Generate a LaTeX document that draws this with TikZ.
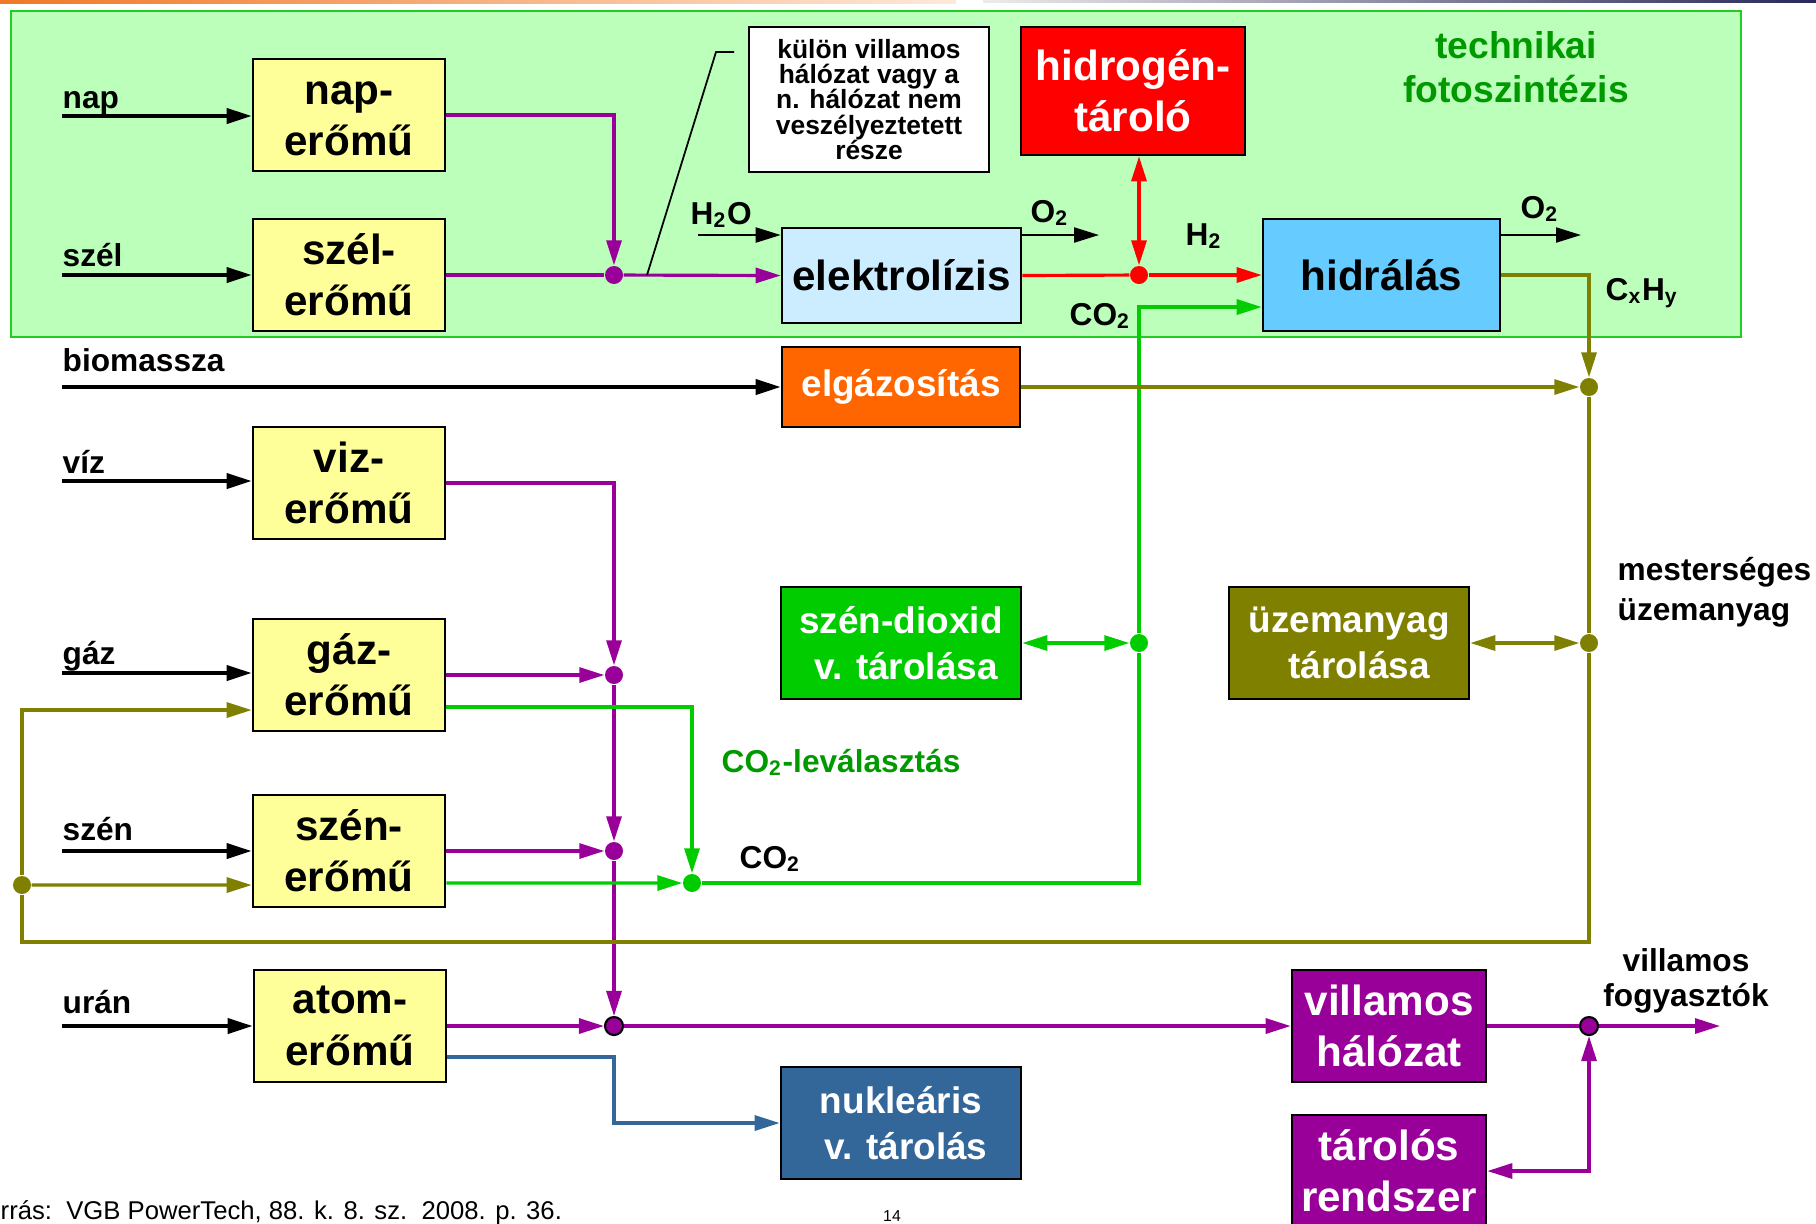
\documentclass[tikz,border=0pt]{standalone}
\usepackage{fontspec}
\setmainfont{Liberation Sans}
\usetikzlibrary{arrows.meta}

\definecolor{hatter}{HTML}{BBFFBB}
\definecolor{keret}{HTML}{22CC22}
\definecolor{sarga}{HTML}{FFFF99}
\definecolor{lila}{HTML}{990099}
\definecolor{zold}{HTML}{00CC00}
\definecolor{sotetzold}{HTML}{009900}
\definecolor{oliva}{HTML}{808000}
\definecolor{kek}{HTML}{336699}
\definecolor{halvanykek}{HTML}{CCECFF}
\definecolor{egkek}{HTML}{66CCFF}
\definecolor{narancs}{HTML}{FF6600}
\definecolor{csik}{HTML}{F07828}
\definecolor{csikvege}{HTML}{FDE9D9}
\definecolor{sotetcsik}{HTML}{28285A}

\newcommand{\megjbetu}{\bfseries\fontsize{7.5}{7.2}\selectfont\setlength{\lineskiplimit}{-10pt}}

\tikzset{
  doboz/.style={draw=black, line width=0.7pt, align=center, inner sep=0pt,
    font=\bfseries\fontsize{12}{14.6}\selectfont},
  eromu/.style={doboz, fill=sarga, minimum width=1.92cm, minimum height=1.12cm},
  feher/.style={font=\bfseries\fontsize{10.5}{12.9}\selectfont, text=white},
  cimke/.style={font=\bfseries\fontsize{9}{10}\selectfont, inner sep=0pt},
  pont/.style={circle, fill=#1, inner sep=0pt, minimum size=0.18cm},
  nyil/.style={-{Triangle[length=0.25cm,width=0.15cm]}},
  ketnyil/.style={{Triangle[length=0.25cm,width=0.15cm]}-{Triangle[length=0.25cm,width=0.15cm]}},
  vonal/.style={line width=0.9pt},
  bemenet/.style={line width=1.1pt, nyil},
}

\begin{document}
\begin{tikzpicture}[x=0.01cm, y=-0.01cm]
  \useasboundingbox (0,0) rectangle (1816,1223);
  % header strip and the green frame
  \shade[left color=csik, right color=csikvege] (0,0) rectangle (956,3);
  \shade[left color=gray!15, right color=sotetcsik] (983,0) rectangle (1816,2.5);
  \draw[keret, fill=hatter, line width=0.6pt] (11,11) rectangle (1741,337);

  % power plants
  \node[eromu] (nap) at (349,115) {\vphantom{á}nap-\\erőmű};
  \node[eromu] (szel) at (349,275) {szél-\\erőmű};
  \node[eromu] (viz) at (349,483) {viz-\\erőmű};
  \node[eromu] (gaz) at (349,675) {gáz-\\erőmű};
  \node[eromu] (szen) at (349,851) {szén-\\erőmű};
  \node[eromu] (atom) at (350,1026) {atom-\\erőmű};

  % other boxes
  \node[doboz, fill=white, minimum width=2.40cm, minimum height=1.45cm, font=\megjbetu] (megj) at (869,99.5)
    {külön villamos\\hálózat vagy a\\n. hálózat nem\\veszélyeztetett\\része};
  \node[doboz, fill=red, text=white, minimum width=2.24cm, minimum height=1.28cm] (htar) at (1133,91) {hidrogén-\\tároló};
  \node[doboz, fill=halvanykek, minimum width=2.39cm, minimum height=0.95cm] (elektro) at (901.5,275.5) {elektrolízis};
  \node[doboz, fill=egkek, minimum width=2.37cm, minimum height=1.12cm] (hidral) at (1381.5,275) {hidrálás};
  \node[doboz, feher, fill=narancs, minimum width=2.38cm, minimum height=0.80cm] (elgaz) at (901,387) {elgázosítás};
  \node[doboz, feher, fill=zold, minimum width=2.40cm, minimum height=1.12cm] (co2tar) at (901,643) {szén-dioxid\\\hspace*{1mm}v. tárolása};
  \node[doboz, feher, fill=oliva, minimum width=2.40cm, minimum height=1.12cm] (uzem) at (1349,643) {üzemanyag\\\hspace*{2mm}tárolása};
  \node[doboz, feher, fill=kek, minimum width=2.40cm, minimum height=1.12cm] (nukl) at (901,1123) {nukleáris\\\hspace*{1mm}v. tárolás};
  \node[doboz, fill=lila, text=white, minimum width=1.94cm, minimum height=1.12cm] (villhal) at (1389,1026) {villamos\\hálózat};
  \node[doboz, fill=lila, text=white, minimum width=1.94cm, minimum height=1.12cm] (tarolos) at (1389,1171) {tárolós\\rendszer};

  % junctions
  \node[pont=lila] (d1) at (614,275) {};
  \node[pont=red] (d2) at (1139,275) {};
  \node[pont=oliva] (d3) at (1589,387) {};
  \node[pont=oliva] (d4) at (1589,643) {};
  \node[pont=zold] (d5) at (1139,643) {};
  \node[pont=lila] (d6) at (614,675) {};
  \node[pont=lila] (d7) at (614,851) {};
  \node[pont=zold] (d8) at (692,883) {};
  \node[pont=oliva] (d9) at (22,885) {};
  \node[pont=lila, draw=black, line width=0.6pt] (d10) at (614,1026) {};
  \node[pont=lila, draw=black, line width=0.6pt] (d11) at (1589,1026) {};

  \coordinate (be-nap) at (62,116);
  \coordinate (be-szel) at (62,275);
  \coordinate (be-bio) at (62,387);
  \coordinate (be-viz) at (62,481);
  \coordinate (be-gaz) at (62,673);
  \coordinate (be-szen) at (62,851);
  \coordinate (be-uran) at (62,1026);
  \coordinate (h2o) at (698,235);
  \coordinate (o2a) at (1099,235);
  \coordinate (o2b) at (1581,235);
  \coordinate (fogy) at (1720,1026);
  \coordinate (sarok) at (22,942);
  \coordinate (c1) at (647,275);
  \coordinate (c2) at (716,52);
  \coordinate (c3) at (734,52);

  % inputs
  \draw[bemenet] (be-nap) -- (be-nap -| nap.west);
  \draw[bemenet] (be-szel) -- (szel.west);
  \draw[bemenet] (be-bio) -- (elgaz.west);
  \draw[bemenet] (be-viz) -- (be-viz -| viz.west);
  \draw[bemenet] (be-gaz) -- (be-gaz -| gaz.west);
  \draw[bemenet] (be-szen) -- (szen.west);
  \draw[bemenet] (be-uran) -- (atom.west);
  \node[cimke, anchor=base west] (l-nap) at (62,108) {nap};
  \node[cimke, anchor=base west] (l-szel) at (62,266) {szél};
  \node[cimke, anchor=base west] (l-bio) at (62,371) {biomassza};
  \node[cimke, anchor=base west] (l-viz) at (62,473) {víz};
  \node[cimke, anchor=base west] (l-gaz) at (62,664) {gáz};
  \node[cimke, anchor=base west] (l-szen) at (62,840) {szén};
  \node[cimke, anchor=base west] (l-uran) at (62,1013) {urán};

  % electricity
  \draw[vonal, lila, nyil] (nap.east) -| (d1);
  \draw[vonal, lila] (szel.east) -- (d1);
  \draw[vonal, lila, nyil] (d1) -- (elektro.west);
  \draw[vonal, lila, nyil] (viz.east) -| (d6);
  \draw[vonal, lila, nyil] (gaz.east) -- (d6);
  \draw[vonal, lila, nyil] (d6) -- (d7);
  \draw[vonal, lila, nyil] (szen.east) -- (d7);
  \draw[vonal, lila, nyil] (d7) -- (d10);
  \draw[vonal, lila, nyil] (atom.east) -- (d10);
  \draw[vonal, lila, nyil] (d10) -- (villhal.west);
  \draw[vonal, lila] (villhal.east) -- (d11);
  \draw[vonal, lila, nyil] (d11) -- (fogy);
  \draw[vonal, lila, ketnyil] (tarolos.east) -| (d11);
  \draw[line width=0.5pt] (c1) -- (c2) -- (c3);

  % CO2
  \draw[vonal, zold, nyil] ([yshift=-0.32cm]gaz.east) -| (d8);
  \draw[vonal, zold, nyil] ([yshift=-0.32cm]szen.east) -- (d8);
  \draw[vonal, zold] (d8) -| (d5);
  \draw[vonal, zold, nyil] (d5) |- ([yshift=-0.32cm]hidral.west);
  \draw[vonal, zold, ketnyil] (co2tar.east) -- (d5);

  % hydrogen
  \draw[vonal, red] (elektro.east) -- (d2);
  \draw[vonal, red, nyil] (d2) -- (hidral.west);
  \draw[vonal, red, ketnyil] (htar.south -| d2) -- (d2);

  % fuel
  \draw[vonal, oliva, nyil] (hidral.east) -| (d3);
  \draw[vonal, oliva, nyil] (elgaz.east) -- (d3);
  \draw[vonal, oliva] (d3) -- (d4);
  \draw[vonal, oliva, ketnyil] (uzem.east) -- (d4);
  \draw[vonal, oliva] (d4) |- (sarok) -- (d9);
  \draw[vonal, oliva, nyil] (d9) |- ([yshift=-0.35cm]gaz.west);
  \draw[vonal, oliva, nyil] (d9) -- ([yshift=-0.34cm]szen.west);

  % nuclear waste
  \draw[vonal, kek, nyil] ([yshift=-0.31cm]atom.east) -| (d10 |- nukl.west) -- (nukl.west);

  % water and oxygen
  \draw[line width=0.6pt, nyil] (h2o) -- (h2o -| elektro.west);
  \draw[line width=0.6pt, nyil] (o2a -| elektro.east) -- (o2a);
  \draw[line width=0.6pt, nyil] (o2b -| hidral.east) -- (o2b);

  % labels
  \node[cimke, anchor=base west] (l-h2o) at (690,224) {H\textsubscript{2}O};
  \node[cimke, anchor=base west] (l-o2a) at (1030,222) {O\textsubscript{2}};
  \node[cimke, anchor=base west] (l-h2) at (1185,245) {H\textsubscript{2}};
  \node[cimke, anchor=base west] (l-o2b) at (1520,218) {O\textsubscript{2}};
  \node[cimke, anchor=base west] (l-co2a) at (1069,325) {CO\textsubscript{2}};
  \node[cimke, anchor=base west] (l-cxhy) at (1605,300) {C\textsubscript{x}H\textsubscript{y}};
  \node[cimke, anchor=base west] (l-co2b) at (739,868) {CO\textsubscript{2}};
  \node[cimke, anchor=base west, text=sotetzold] (l-lev) at (721,772) {CO\textsubscript{2}-leválasztás};
  \node[font=\bfseries\fontsize{10.6}{12.5}\selectfont, text=sotetzold, align=center, inner sep=0pt] (l-tf) at (1516,67) {technikai\\fotoszintézis};
  \node[cimke, align=left, anchor=west, font=\bfseries\fontsize{9}{11.3}\selectfont] (l-mu) at (1617,592) {mesterséges\\üzemanyag};
  \node[cimke, align=center] (l-fogy) at (1686,981) {villamos\\fogyasztók};

  % footer
  \node[anchor=base west, inner sep=0pt, font=\fontsize{7.3}{8}\selectfont] (forras) at (0,1219) {rrás:\ \ VGB PowerTech, 88. k. 8. sz.\ \ 2008. p. 36.};
  \node[anchor=base, inner sep=0pt, font=\fontsize{4.5}{5}\selectfont] (oldal) at (892,1221) {14};
\end{tikzpicture}
\end{document}
